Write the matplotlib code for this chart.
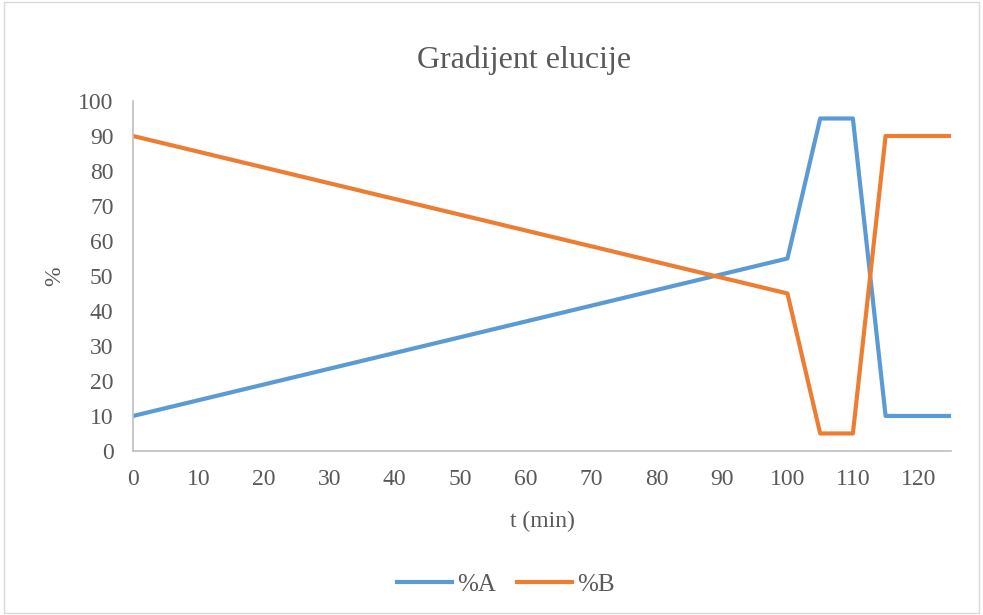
import matplotlib.pyplot as plt
from matplotlib.patches import Rectangle

t = [0, 100, 105, 110, 115, 125]
pct_a = [10, 55, 95, 95, 10, 10]
pct_b = [90, 45, 5, 5, 90, 90]

xticks = list(range(0, 130, 10))
yticks = list(range(0, 110, 10))

plt.rcParams['font.family'] = ['Liberation Serif', 'DejaVu Serif']
txt = '#595959'

fig = plt.figure(figsize=(9.83, 6.15), dpi=100)
fig.patches.append(Rectangle((0.004, 0.004), 0.992, 0.992, transform=fig.transFigure,
                             fill=False, edgecolor='#d9d9d9', linewidth=1))
ax = fig.add_axes([0.1353, 0.2667, 0.8322, 0.5691])

ax.plot(t, pct_a, color='#5B9BD5', linewidth=3, label='%A', solid_joinstyle='round')
ax.plot(t, pct_b, color='#ED7D31', linewidth=3, label='%B', solid_joinstyle='round')

ax.set_xlim(0, 125)
ax.set_ylim(0, 100)
ax.set_xticks(xticks)
ax.set_yticks(yticks)
ax.tick_params(length=0, labelsize=17, colors=txt)
ax.tick_params(axis='x', pad=13)
ax.tick_params(axis='y', pad=14)
for s in ['top', 'right']:
    ax.spines[s].set_visible(False)
for s in ['left', 'bottom']:
    ax.spines[s].set_color('#bfbfbf')
    ax.spines[s].set_linewidth(1.2)

ax.set_xlabel('t (min)', fontsize=17, color=txt, labelpad=15)
ax.set_ylabel('%', fontsize=17, color=txt, labelpad=9)
fig.text(0.533, 0.902, 'Gradijent elucije', ha='center', va='center', fontsize=23, color=txt)

fig.legend(loc='center', bbox_to_anchor=(0.515, 0.049), ncol=2, frameon=False,
           fontsize=18, labelcolor=txt, handlelength=2.2, columnspacing=0.85, handletextpad=0.2)

fig.savefig('out.png', dpi=100)
